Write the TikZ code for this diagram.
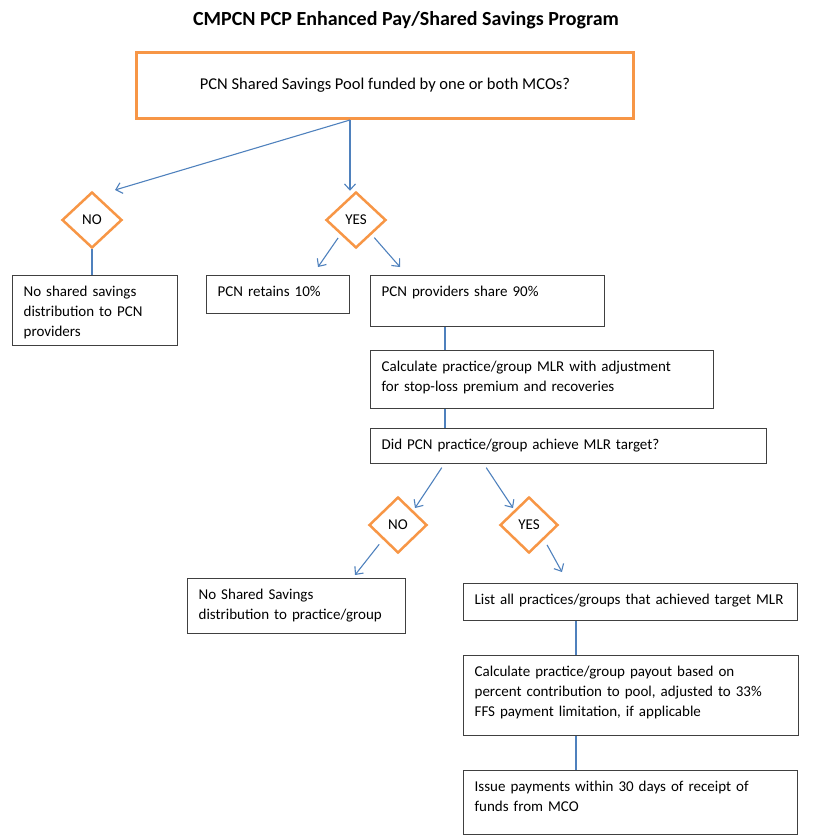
\documentclass[tikz,border=0pt]{standalone}
\usepackage{fontspec}
\setmainfont{Carlito}
\usetikzlibrary{shapes.geometric,arrows.meta}
\definecolor{lineblue}{RGB}{79,129,189}
\definecolor{choiceorange}{RGB}{247,150,70}
\definecolor{boxgrey}{RGB}{64,64,64}

\begin{document}
\begin{tikzpicture}[x=1pt, y=-1pt,
    box/.style={draw=boxgrey, line width=1.3pt, rectangle, anchor=north west, align=left,
        inner xsep=11pt, inner ysep=11pt, text height=10pt, font=\fontsize{15}{20}\selectfont},
    choice/.style={draw=choiceorange, line width=2.5pt, diamond, minimum width=60pt,
        minimum height=56pt, inner sep=0pt, font=\fontsize{15}{20}\selectfont},
    flow/.style={draw=lineblue, line width=1.1pt, -{Straight Barb[length=6pt,width=11pt]}},
    link/.style={draw=lineblue, line width=1.1pt}]
    \useasboundingbox (0,0) rectangle (812,836);

    % Title and pool question
    \node[font=\fontsize{20}{24}\selectfont\bfseries] (title) at (406,20) {CMPCN PCP Enhanced Pay/Shared Savings Program};
    \node[draw=choiceorange, line width=3pt, rectangle, anchor=north west, minimum width=497pt,
        minimum height=66pt, font=\fontsize{16.5}{20}\selectfont] (pool) at (135,51) {PCN Shared Savings Pool funded by one or both MCOs?};

    % First decision
    \node[choice] (no1) at (92,220) {NO};
    \node[choice] (yes1) at (356,220) {YES};

    \node[box, text width=143pt, text depth=38pt] (nopay) at (12,275) {No shared savings\\distribution to PCN\\providers};
    \node[box, text width=121pt, text depth=6pt] (retain) at (206,275) {PCN retains 10\%};
    \node[box, text width=212pt, text depth=19pt] (share) at (370,275) {PCN providers share 90\%};
    \node[box, text width=321pt, text depth=26pt] (calcmlr) at (370,350) {Calculate practice/group MLR with adjustment\\for stop-loss premium and recoveries};
    \node[box, text width=374pt, text depth=3pt] (target) at (370,428) {Did PCN practice/group achieve MLR target?};

    % Second decision
    \node[choice, minimum width=58pt] (no2) at (398,525) {NO};
    \node[choice, minimum width=58pt] (yes2) at (529,525) {YES};

    \node[box, text width=196pt, text depth=23pt] (nopay2) at (187,578) {No Shared Savings\\distribution to practice/group};
    \node[box, text width=312pt, text depth=5pt] (listall) at (463,583) {List all practices/groups that achieved target MLR};
    \node[box, text width=313pt, text depth=48pt] (payout) at (463,655) {Calculate practice/group payout based on\\percent contribution to pool, adjusted to 33\%\\FFS payment limitation, if applicable};
    \node[box, text width=312pt, text depth=32pt] (issue) at (463,770) {Issue payments within 30 days of receipt of\\funds from MCO};

    % Arrow ends
    \coordinate (fork) at (pool.south -| 350,0);
    \coordinate (notip) at (115,190);
    \coordinate (retaintip) at (318,267);
    \coordinate (sharetip) at (400,267);
    \coordinate (no2tip) at (415,508);
    \coordinate (yes2tip) at (513,508);
    \coordinate (nopay2tip) at (355,575);
    \coordinate (listtip) at (562,572);

    % Arrows
    \draw[flow] (fork) -- (notip);
    \draw[flow] (fork) -- (fork |- yes1.north);
    \draw[flow, shorten <=4pt] (yes1.south west) -- (retaintip);
    \draw[flow, shorten <=4pt] (yes1.south east) -- (sharetip);
    \draw[link] (no1.south) -- (no1.south |- nopay.north);
    \draw[link] ([xshift=75pt]share.south west) -- ([xshift=75pt]calcmlr.north west);
    \draw[link] ([xshift=75pt]calcmlr.south west) -- ([xshift=75pt]target.north west);
    \draw[flow, shorten <=4pt] ([xshift=74pt]target.south west) -- (no2tip);
    \draw[flow, shorten <=4pt] ([xshift=114pt]target.south west) -- (yes2tip);
    \draw[flow, shorten <=6pt] (no2.south west) -- (nopay2tip);
    \draw[flow, shorten <=6pt] (yes2.south east) -- (listtip);
    \draw[link] ([xshift=113pt]listall.south west) -- ([xshift=113pt]payout.north west);
    \draw[link] ([xshift=113pt]payout.south west) -- ([xshift=113pt]issue.north west);
\end{tikzpicture}
\end{document}
